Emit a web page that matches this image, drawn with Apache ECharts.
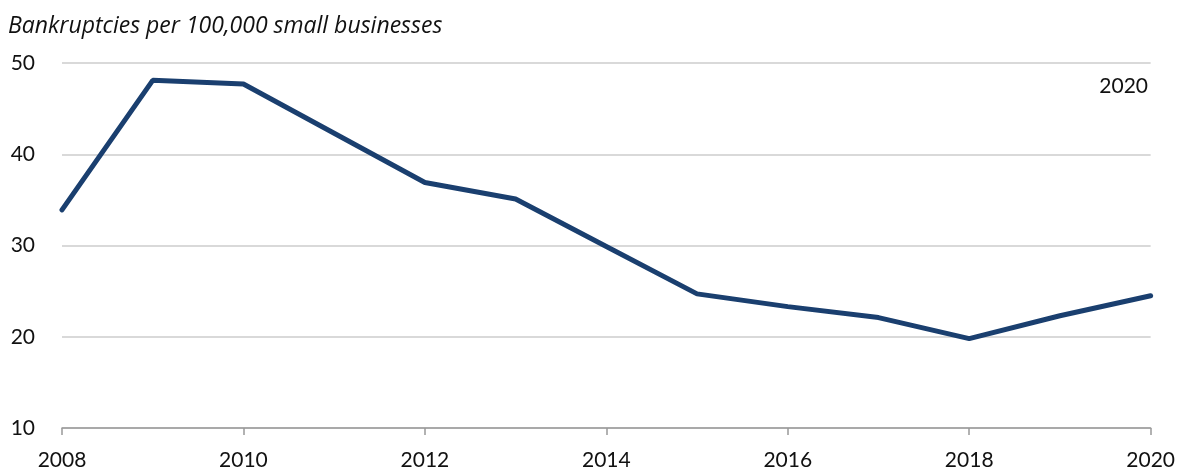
<!DOCTYPE html>
<html>
<head>
<meta charset="utf-8">
<script src="https://cdn.jsdelivr.net/npm/echarts@6/dist/echarts.min.js"></script>
<style>
  html, body { margin: 0; padding: 0; background: #fff; }
  #chart { width: 1178px; height: 472px; }
</style>
</head>
<body>
<div id="chart"></div>
<script>
// 数据
const years = [2008, 2009, 2010, 2011, 2012, 2013, 2014, 2015, 2016, 2017, 2018, 2019, 2020]
const rates = [33.9, 48.1, 47.7, 42.3, 36.9, 35.1, 29.9, 24.7, 23.3, 22.1, 19.8, 22.3, 24.5]
const seriesName = '2020'
const yTitle = 'Bankruptcies per 100,000 small businesses'

const font = 'Lato, "Noto Sans", sans-serif'

const myChart = echarts.init(document.getElementById('chart'))

const options = {
  animation: false,
  textStyle: { fontFamily: font },
  grid: {
    left: 62,
    right: 26,
    top: 63,
    bottom: 44,
    containLabel: false,
  },
  xAxis: {
    type: 'value',
    min: 2008,
    max: 2020,
    interval: 2,
    axisLine: { show: true, lineStyle: { color: '#999', width: 1.5 } },
    axisTick: { show: true, length: 7, lineStyle: { color: '#999', width: 1.5 } },
    axisLabel: {
      color: '#111',
      fontSize: 21,
      margin: 22,
      fontFamily: font,
      formatter: (v) => String(v),
    },
    splitLine: { show: false },
  },
  yAxis: {
    type: 'value',
    min: 10,
    max: 50,
    interval: 10,
    axisLine: { show: false },
    axisTick: { show: false },
    axisLabel: {
      color: '#111',
      fontSize: 21,
      margin: 27,
      fontFamily: font,
    },
    splitLine: { lineStyle: { color: '#d9d9d9', width: 2 } },
  },
  graphic: [
    {
      type: 'text',
      left: 8,
      top: 15,
      style: {
        text: yTitle,
        font: 'italic 23px "Open Sans", sans-serif',
        fill: '#111',
      },
    },
    {
      type: 'text',
      right: 30,
      top: 76,
      style: {
        text: seriesName,
        font: '21px ' + font,
        fill: '#111',
      },
    },
  ],
  series: [
    {
      name: seriesName,
      type: 'line',
      data: years.map((y, i) => [y, rates[i]]),
      showSymbol: false,
      lineStyle: { color: '#1a3f6f', width: 5, cap: 'round' },
      itemStyle: { color: '#1a3f6f' },
    },
  ],
}
myChart.setOption(options)
</script>
</body>
</html>
